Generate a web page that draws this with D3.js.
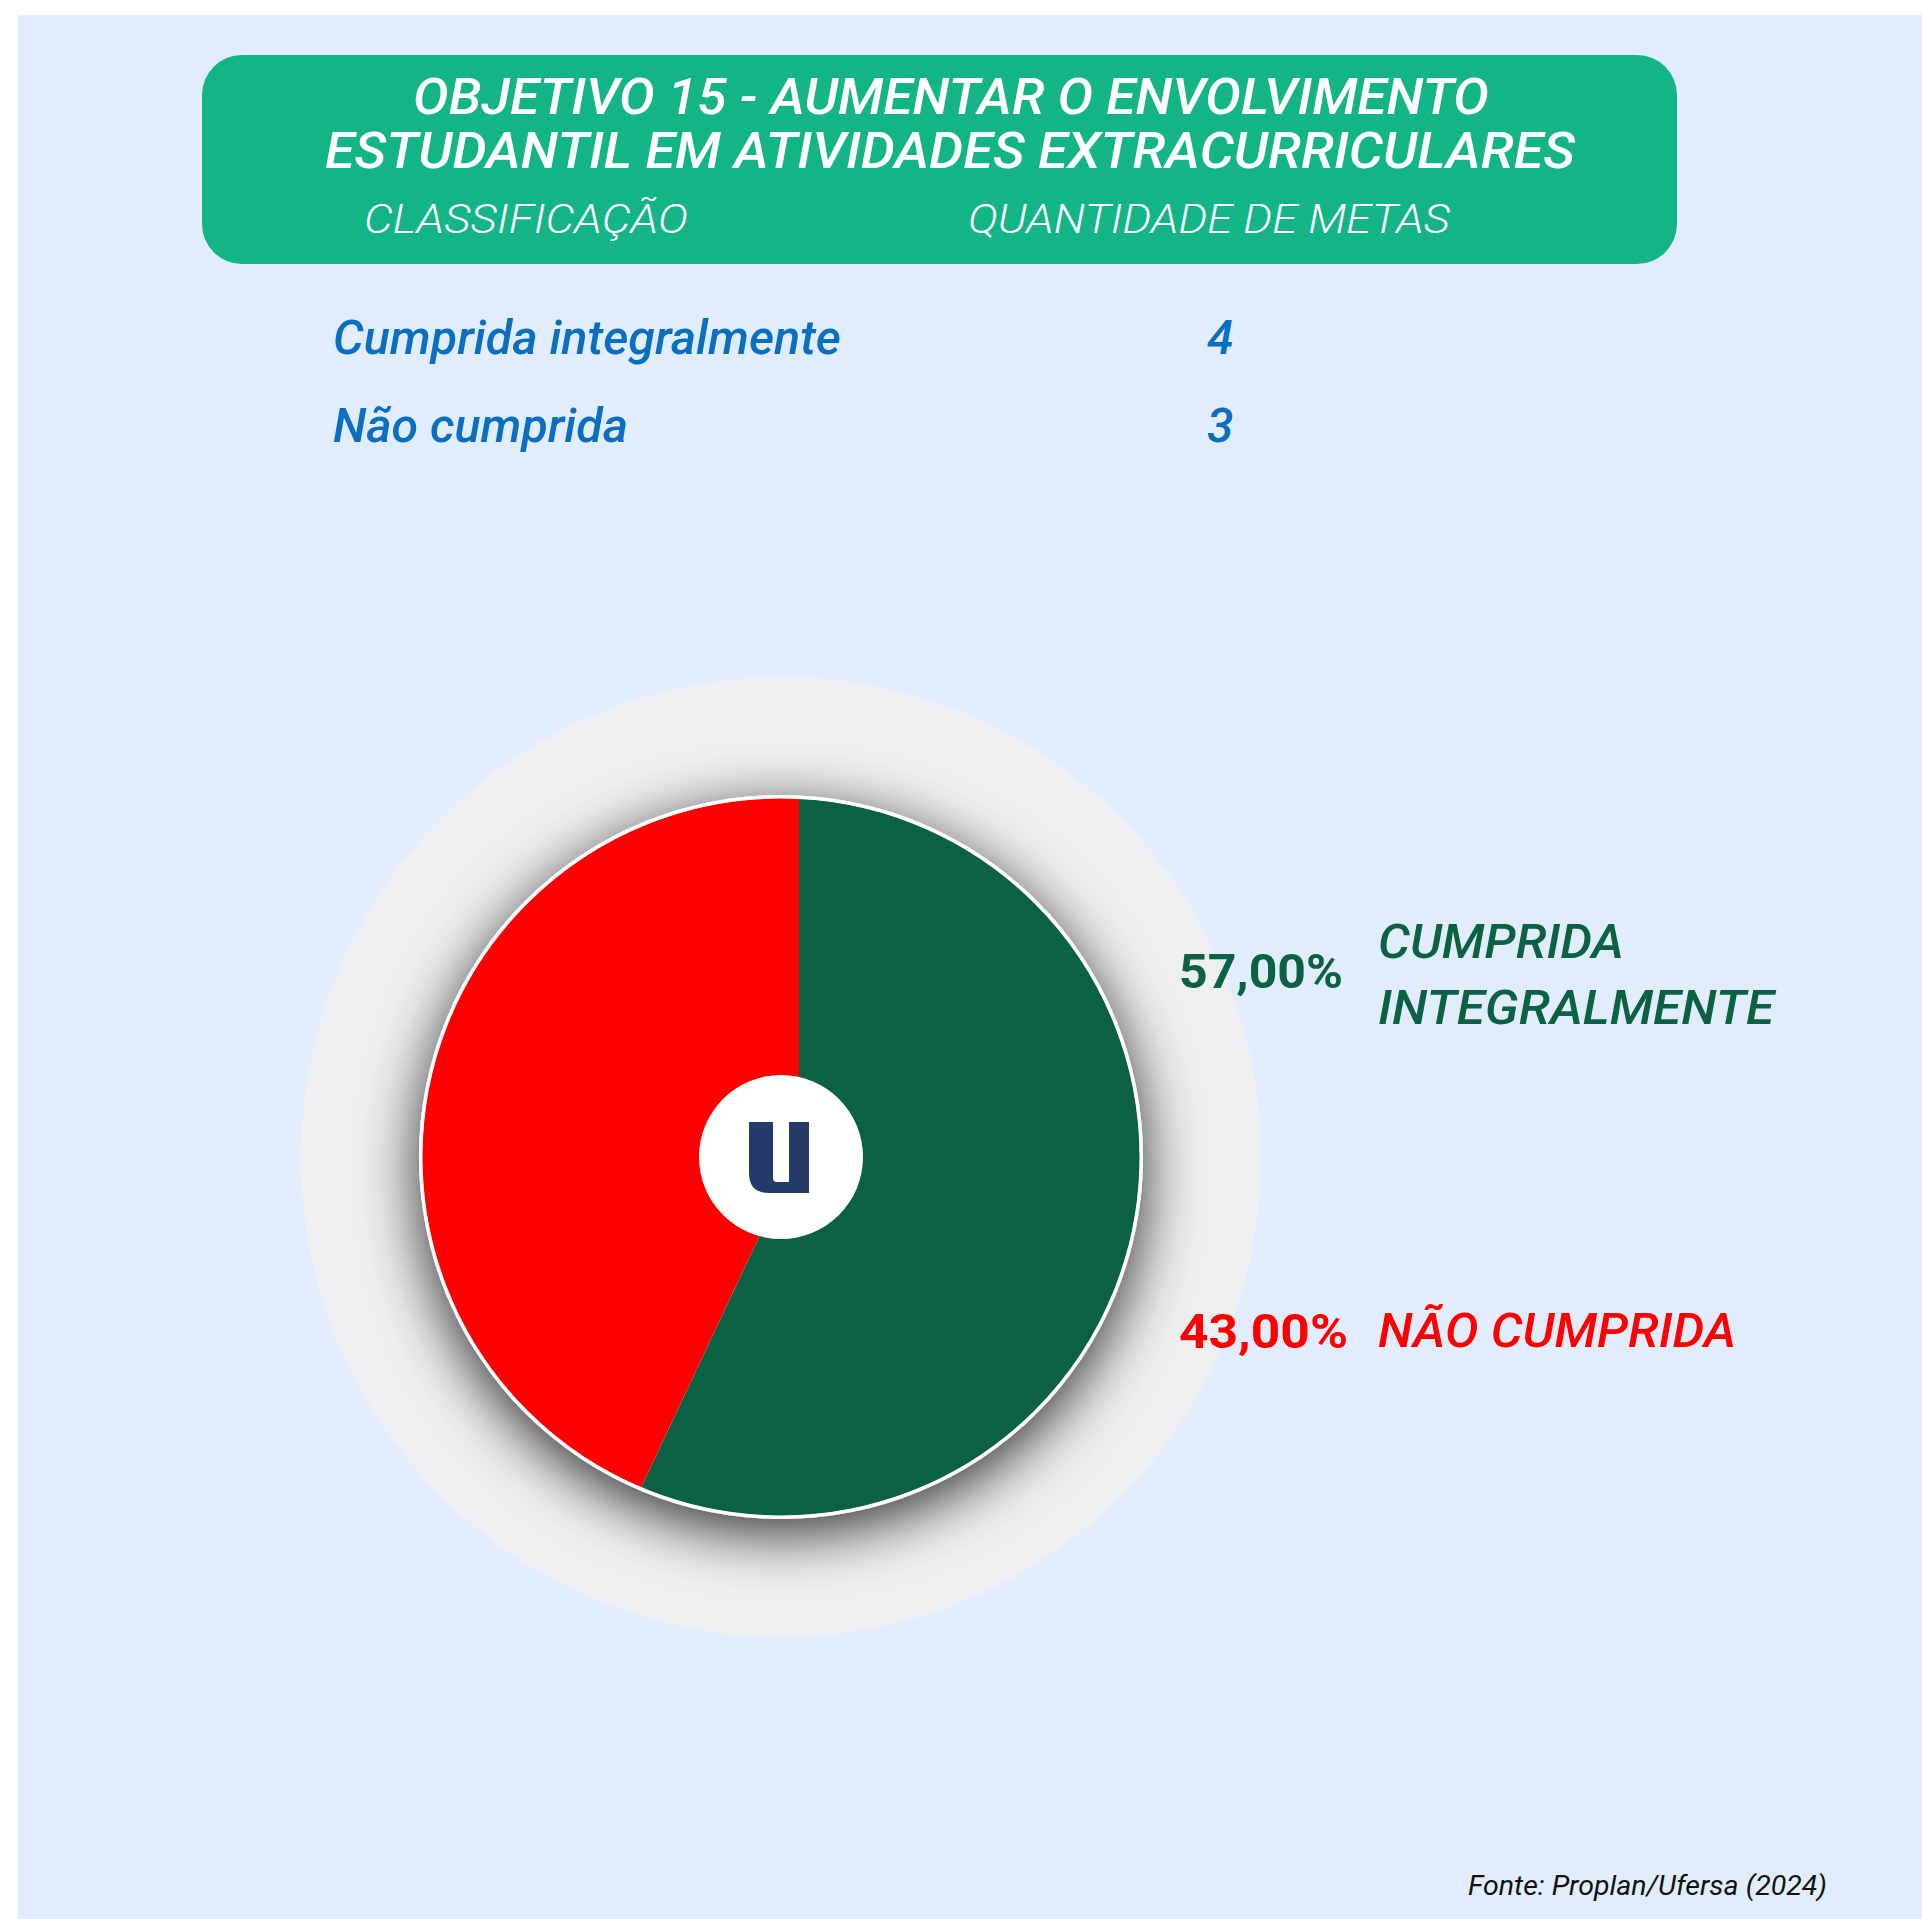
<!DOCTYPE html>
<html>
<head>
<meta charset="utf-8">
<script src="https://cdn.jsdelivr.net/npm/d3@7"></script>
<style>
  body { margin: 0; background: #ffffff; }
  svg { display: block; }
  text { font-family: Roboto, "Noto Sans", sans-serif; }
</style>
</head>
<body>
<div id="chart"></div>
<script>
// data
const titleLines   = ["OBJETIVO 15 - AUMENTAR O ENVOLVIMENTO", "ESTUDANTIL EM ATIVIDADES EXTRACURRICULARES"]
const headerLabels = ["CLASSIFICAÇÃO", "QUANTIDADE DE METAS"]
const categories   = ["Cumprida integralmente", "Não cumprida"]
const legendNames  = [["CUMPRIDA", "INTEGRALMENTE"], ["NÃO CUMPRIDA"]]
const counts       = [4, 3]
const percentages  = [57, 43]
const sliceColors  = ["#0b6243", "#ff0000"]
const labelColors  = ["#0b6142", "#ff0000"]
const source       = "Fonte: Proplan/Ufersa (2024)"

const width = 1922, height = 1919
const cx = 781, cy = 1157
const radius = 360
// the wedges in the original meet a little off the disc centre
const apex = {x: cx + 18, y: cy - 5}

const ptBR = d3.formatLocale({decimal: ",", thousands: ".", grouping: [3], currency: ["R$", ""]})
const fmtPct = v => ptBR.format(".2f")(v) + "%"

const svg = d3.select("#chart").append("svg")
  .attr("width", width)
  .attr("height", height)

const defs = svg.append("defs")
const shadow = defs.append("filter").attr("id", "pieShadow")
  .attr("x", "-50%").attr("y", "-50%").attr("width", "200%").attr("height", "200%")
shadow.append("feDropShadow")
  .attr("dx", 0).attr("dy", 14)
  .attr("stdDeviation", 30)
  .attr("flood-color", "#000")
  .attr("flood-opacity", 0.8)

defs.append("clipPath").attr("id", "discClip")
  .append("circle")
  .attr("cx", cx).attr("cy", cy)
  .attr("r", radius - 1)

// page background
svg.append("rect")
  .attr("x", 18).attr("y", 15)
  .attr("width", width - 18).attr("height", height - 15)
  .attr("fill", "#e1edfd")

// header box
svg.append("rect")
  .attr("x", 202).attr("y", 55)
  .attr("width", 1475).attr("height", 209)
  .attr("rx", 40).attr("ry", 40)
  .attr("fill", "#13b586")

const titleSpec = [{x: 413, y: 114, len: 1076}, {x: 325, y: 168, len: 1250}]
svg.append("g").selectAll("text")
  .data(titleLines)
  .join("text")
  .attr("x", (d, i) => titleSpec[i].x)
  .attr("y", (d, i) => titleSpec[i].y)
  .attr("textLength", (d, i) => titleSpec[i].len)
  .attr("lengthAdjust", "spacingAndGlyphs")
  .attr("font-size", 50)
  .attr("font-style", "italic")
  .attr("font-weight", 500)
  .attr("fill", "#ffffff")
  .text(d => d)

const headSpec = [{x: 364, len: 324}, {x: 968, len: 482}]
svg.append("g").selectAll("text")
  .data(headerLabels)
  .join("text")
  .attr("x", (d, i) => headSpec[i].x)
  .attr("y", 233)
  .attr("textLength", (d, i) => headSpec[i].len)
  .attr("lengthAdjust", "spacingAndGlyphs")
  .attr("font-size", 41)
  .attr("font-style", "italic")
  .attr("font-weight", 300)
  .attr("fill", "#ffffff")
  .text(d => d)

// table rows
const rowY = d3.scalePoint().domain(categories).range([354, 442])
const rows = svg.append("g").selectAll("g")
  .data(categories)
  .join("g")
  .attr("transform", d => "translate(0," + rowY(d) + ")")

const rowLen = [508, 295]
rows.append("text")
  .attr("x", 333)
  .attr("textLength", (d, i) => rowLen[i])
  .attr("lengthAdjust", "spacingAndGlyphs")
  .attr("font-size", 48)
  .attr("font-style", "italic")
  .attr("font-weight", 500)
  .attr("fill", "#0a6ec1")
  .text(d => d)

rows.append("text")
  .attr("x", 1207)
  .attr("font-size", 48)
  .attr("font-style", "italic")
  .attr("font-weight", 500)
  .attr("fill", "#0a6ec1")
  .text((d, i) => counts[i])

// pie
svg.append("circle")
  .attr("cx", cx).attr("cy", cy)
  .attr("r", 480)
  .attr("fill", "#efeff2")

svg.append("circle")
  .attr("cx", cx).attr("cy", cy)
  .attr("r", radius + 2)
  .attr("fill", "#ffffff")
  .attr("filter", "url(#pieShadow)")

const pie = d3.pie().sort(null).value(d => d)
const arc = d3.arc().innerRadius(0).outerRadius(radius + 60)

svg.append("g")
  .attr("clip-path", "url(#discClip)")
  .append("g")
  .attr("transform", "translate(" + apex.x + "," + apex.y + ")")
  .selectAll("path.slice")
  .data(pie(percentages))
  .join("path")
  .attr("class", "slice")
  .attr("d", arc)
  .attr("fill", (d, i) => sliceColors[i])

svg.append("circle")
  .attr("cx", cx).attr("cy", cy)
  .attr("r", radius)
  .attr("fill", "none")
  .attr("stroke", "#ffffff")
  .attr("stroke-width", 3)

// centre badge with the logo
const badge = svg.append("g").attr("transform", "translate(" + cx + "," + cy + ")")
badge.append("circle")
  .attr("r", 82)
  .attr("fill", "#ffffff")

badge.append("path")
  .attr("d", "M-32,-35 H-8 V21 Q-8,25 -4,25 H8 V-35 H28 V36 H-12 Q-32,36 -32,16 Z")
  .attr("fill", "#243b6a")

// percentage labels
const labelY = d3.scaleOrdinal().domain(categories).range([988, 1348])
const nameY  = [[958, 1024], [1347]]
const nameLen = [[246, 396], [358]]
const pctLen = [164, 169]

const labels = svg.append("g").selectAll("g")
  .data(categories)
  .join("g")

labels.append("text")
  .attr("x", 1179)
  .attr("y", d => labelY(d))
  .attr("textLength", (d, i) => pctLen[i])
  .attr("lengthAdjust", "spacingAndGlyphs")
  .attr("font-size", 49)
  .attr("font-weight", 700)
  .attr("fill", (d, i) => labelColors[i])
  .text((d, i) => fmtPct(percentages[i]))

labels.each(function(d, i) {
  d3.select(this).selectAll("text.name")
    .data(legendNames[i])
    .join("text")
    .attr("class", "name")
    .attr("x", 1378)
    .attr("y", (n, j) => nameY[i][j])
    .attr("textLength", (n, j) => nameLen[i][j])
    .attr("lengthAdjust", "spacingAndGlyphs")
    .attr("font-size", 48)
    .attr("font-style", "italic")
    .attr("font-weight", 500)
    .attr("fill", labelColors[i])
    .text(n => n)
})

// source note
svg.append("text")
  .attr("x", 1468)
  .attr("y", 1895)
  .attr("textLength", 359)
  .attr("lengthAdjust", "spacingAndGlyphs")
  .attr("font-size", 28)
  .attr("font-style", "italic")
  .attr("fill", "#111111")
  .text(source)
</script>
</body>
</html>
